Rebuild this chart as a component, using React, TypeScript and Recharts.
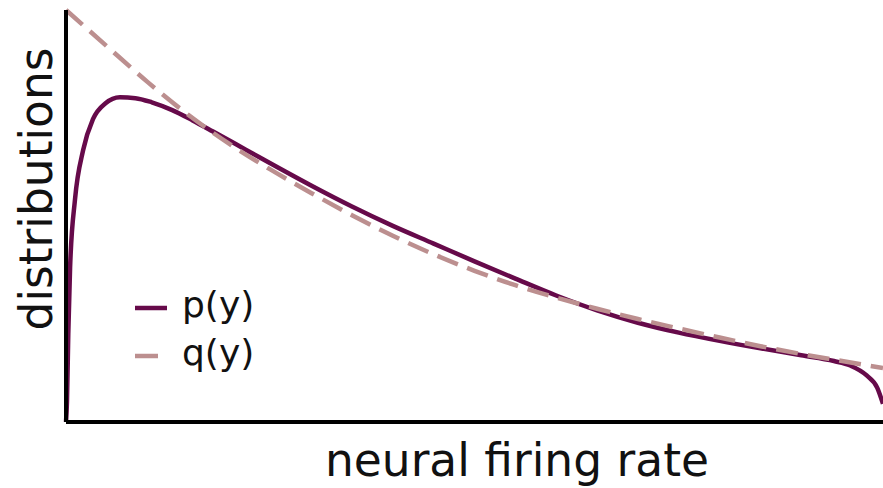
import React from "react";
import { LineChart, Line, XAxis, YAxis, Legend, Label } from "recharts";

// firing rate (0..100) and density (0..100)
const pRate = [0, 0.12, 0.28, 0.5, 1.1, 2.1, 3.3, 4.8, 6.6, 8.5, 10.5, 13, 15.5, 18, 22, 26, 30, 35, 40, 45, 50, 55, 60, 65, 70, 75, 80, 85, 90, 94, 96, 98, 99.3, 100];
const pDensity = [0, 5, 21.5, 37.5, 54, 66, 73.5, 77.3, 78.8, 78.6, 77.6, 75.7, 73.2, 70.5, 66.1, 61.7, 57.4, 52.3, 47.6, 43.3, 39, 34.8, 30.7, 27.1, 24.1, 21.7, 19.7, 17.9, 16.2, 14.8, 13.7, 11.3, 8.3, 4.4];

const qRate = [0, 5, 10, 15, 20, 25, 30, 35, 40, 45, 50, 55, 60, 65, 70, 75, 80, 85, 90, 95, 100];
const qDensity = [100, 91.2, 82.5, 74.5, 67.5, 61.3, 55.6, 50.2, 45.2, 40.7, 36.7, 33.2, 30.2, 27.5, 25, 22.7, 20.5, 18.4, 16.5, 14.8, 13.1];

const pData = pRate.map((x, i) => ({ x, y: pDensity[i] }));
const qData = qRate.map((x, i) => ({ x, y: qDensity[i] }));

const P_COLOR = "#660a4a";
const Q_COLOR = "#bc8f8f";
const FONT = "DejaVu Sans";

const LegendBox = (props: any) => {
  const items = props.payload || [];
  return (
    <svg width={160} height={100} style={{ display: "block" }}>
      {items.map((it: any, i: number) => {
        const y = 28 + i * 48;
        return (
          <g key={i}>
            <line
              x1={15}
              x2={i === 0 ? 47 : 38}
              y1={y}
              y2={y}
              stroke={it.color}
              strokeWidth={4.5}
            />
            <text x={62} y={y + 9} fontFamily={FONT} fontSize={36} fill="#111">
              {it.value}
            </text>
          </g>
        );
      })}
    </svg>
  );
};

export default function App() {
  return (
    <div style={{ position: "absolute", left: 0, top: 0, background: "#fff" }}>
      <LineChart
        width={883}
        height={488}
        margin={{ top: 10, right: 0, left: 0, bottom: 0 }}
      >
        <XAxis
          type="number"
          dataKey="x"
          domain={[0, 100]}
          height={66}
          tick={false}
          tickLine={false}
          axisLine={{ stroke: "#000", strokeWidth: 4 }}
          label={
            <Label
              content={() => (
                <text x={325} y={476} fontFamily={FONT} fontSize={45.5} fill="#111">
                  neural firing rate
                </text>
              )}
            />
          }
        />
        <YAxis
          type="number"
          dataKey="y"
          domain={[0, 100]}
          width={66}
          tick={false}
          tickLine={false}
          axisLine={{ stroke: "#000", strokeWidth: 4 }}
          label={
            <Label
              content={() => (
                <text
                  transform="translate(52,189) rotate(-90)"
                  textAnchor="middle"
                  fontFamily={FONT}
                  fontSize={45.5}
                  fill="#111"
                >
                  distributions
                </text>
              )}
            />
          }
        />
        <Legend
          layout="horizontal"
          verticalAlign="middle"
          align="center"
          content={<LegendBox />}
          wrapperStyle={{ position: "absolute", left: 120, top: 280, width: 160, height: 100 }}
        />
        <Line
          data={pData}
          dataKey="y"
          name="p(y)"
          type="monotone"
          stroke={P_COLOR}
          strokeWidth={4.5}
          dot={false}
          isAnimationActive={false}
        />
        <Line
          data={qData}
          dataKey="y"
          name="q(y)"
          type="monotone"
          stroke={Q_COLOR}
          strokeWidth={4.5}
          strokeDasharray="22 10"
          dot={false}
          isAnimationActive={false}
        />
      </LineChart>
    </div>
  );
}
